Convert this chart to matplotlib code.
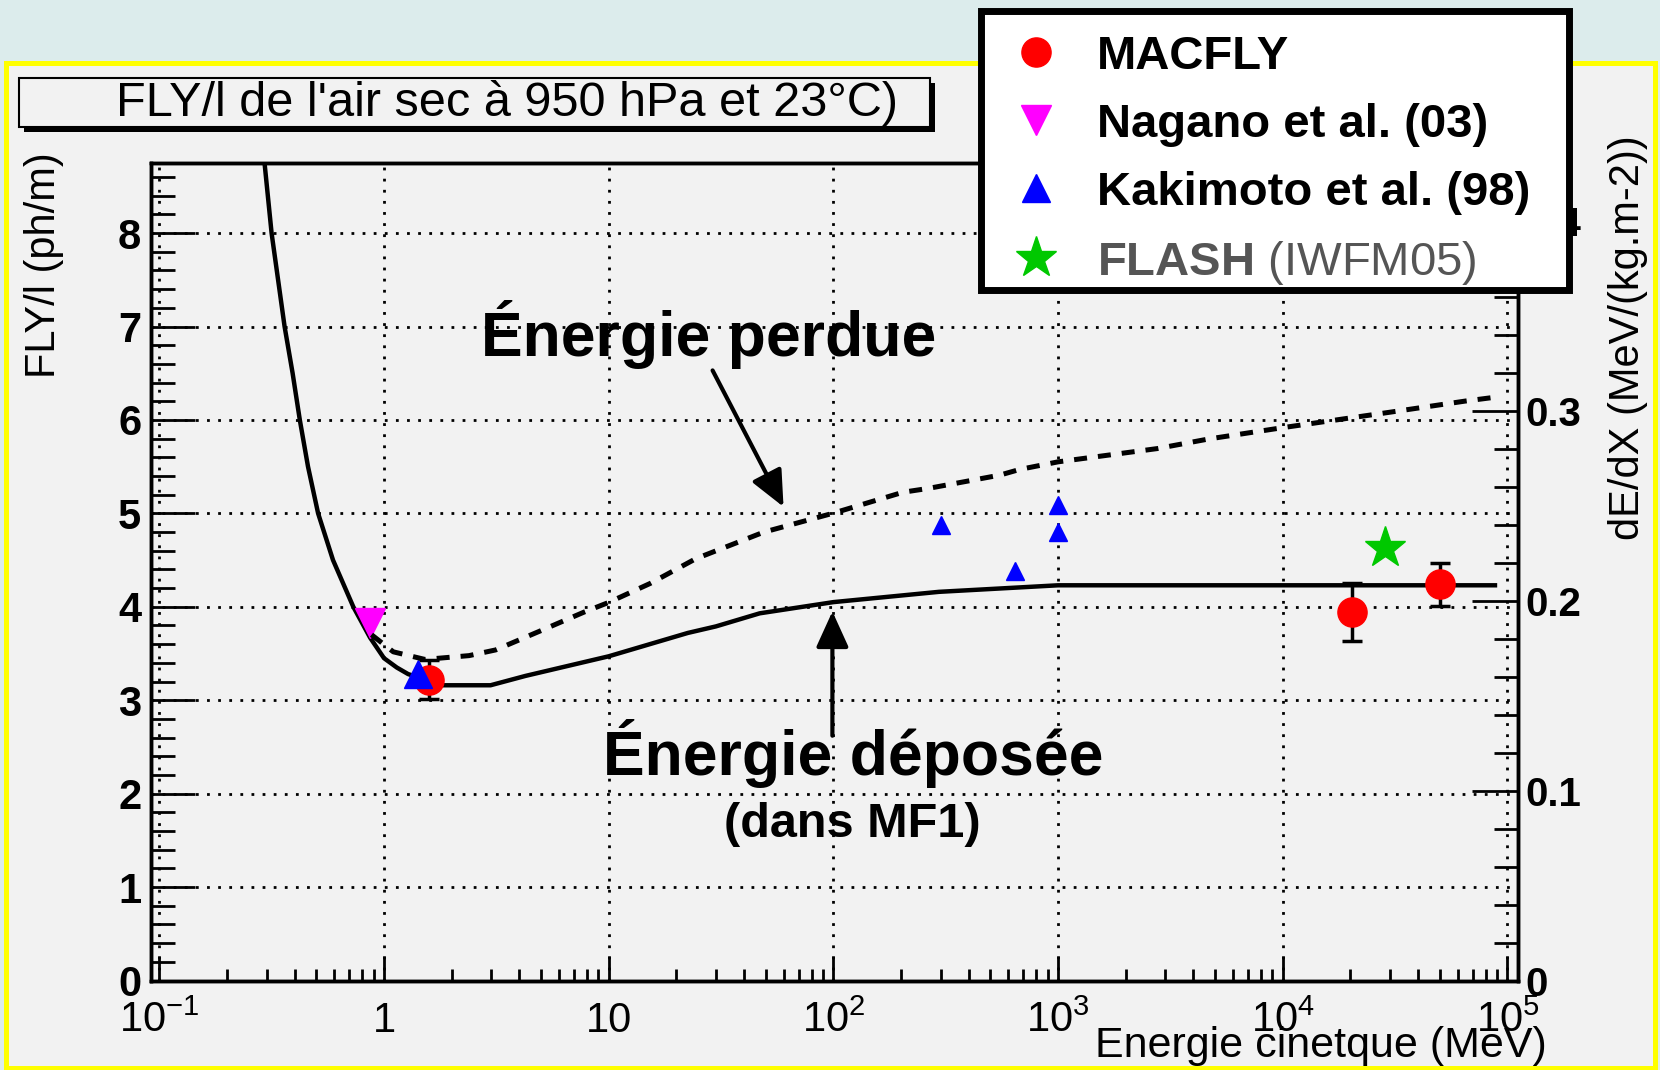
import matplotlib
matplotlib.use('Agg')
import matplotlib.pyplot as plt
from matplotlib.patches import Rectangle
from matplotlib.lines import Line2D
from matplotlib import font_manager
from matplotlib.ticker import MultipleLocator, LogLocator, NullFormatter

# font: narrow ROOT-like look when available
noms = {f.name for f in font_manager.fontManager.ttflist}
narrow = 'Liberation Sans Narrow' if 'Liberation Sans Narrow' in noms else 'Liberation Sans'
plt.rcParams['font.family'] = ['Liberation Sans', 'DejaVu Sans']
plt.rcParams['mathtext.fontset'] = 'custom'
plt.rcParams['mathtext.rm'] = narrow
plt.rcParams['mathtext.it'] = narrow
plt.rcParams['mathtext.bf'] = 'Liberation Sans:bold'

# ---- donnees ----
# energie deposee (FLY/l, ph/m) - courbe pleine
depot_E = [0.294, 0.316, 0.361, 0.392, 0.422, 0.459, 0.509, 0.593, 0.73, 0.867, 1.0,
           1.14, 1.28, 1.8, 2.98, 4.26, 10, 22.5, 30, 47, 100, 295, 1000, 8.8e4]
depot_fly = [8.75, 8.0, 7.0, 6.5, 6.0, 5.5, 5.0, 4.5, 4.0, 3.67, 3.45,
             3.35, 3.28, 3.16, 3.16, 3.26, 3.47, 3.72, 3.79, 3.93, 4.05, 4.16, 4.23, 4.23]

# energie perdue (dE/dX, MeV/(kg.m-2)) - courbe pointillee, axe de droite
perte_E = [0.88, 1.1, 1.52, 2.39, 3.14, 4.96, 7.8, 10, 15.3, 24.4, 49, 100, 204,
           264, 550, 675, 1000, 2770, 4660, 1e4, 29500, 65000, 8.8e4]
perte_dedx = [0.182, 0.173, 0.169, 0.171, 0.174, 0.184, 0.194, 0.199, 0.209, 0.222,
              0.236, 0.246, 0.257, 0.259, 0.266, 0.269, 0.273, 0.280, 0.285, 0.291,
              0.299, 0.305, 0.307]

macfly_E = [1.59, 20300, 50000]
macfly_fly = [3.22, 3.94, 4.24]
macfly_err = [0.21, 0.31, 0.23]

nagano_E = [0.87]
nagano_fly = [3.83]

kakimoto_E = [1.42, 300, 644, 1000, 1000]
kakimoto_fly = [3.28, 4.88, 4.38, 5.09, 4.80]

flash_E = [28500]
flash_fly = [4.63]

x_ticks = [0.1, 1, 10, 100, 1e3, 1e4, 1e5]
x_tick_labels = [r'$10^{-1}$', '1', '10', r'$10^{2}$', r'$10^{3}$', r'$10^{4}$', r'$10^{5}$']
y_ticks = [0, 1, 2, 3, 4, 5, 6, 7, 8]
dedx_ticks = [0, 0.1, 0.2, 0.3, 0.4]
dedx_tick_labels = ['0', '0.1', '0.2', '0.3', '0.4']

legend_labels = ['MACFLY', 'Nagano et al. (03)', 'Kakimoto et al. (98)',
                 r'$\mathbf{FLASH}$ (IWFM05)']

# ---- figure ----
W, H = 1660, 1070
fig = plt.figure(figsize=(W / 100, H / 100), dpi=100, facecolor='#dcecec')

# cadre jaune
fig.add_artist(Rectangle((6 / W, 1 - 1068 / H), 1649 / W, 1005 / H, facecolor='#f2f2f2',
                         edgecolor='#ffff00', lw=3.6, transform=fig.transFigure, zorder=-10))
# boite de titre avec ombre
fig.add_artist(Rectangle((24 / W, 1 - 132 / H), 911 / W, 49 / H, facecolor='black',
                         edgecolor='black', lw=0, transform=fig.transFigure, zorder=-5))
fig.add_artist(Rectangle((19 / W, 1 - 127 / H), 911 / W, 49 / H, facecolor='#f2f2f2',
                         edgecolor='black', lw=1.5, transform=fig.transFigure, zorder=-4))
fig.text(507 / W, 1 - 103 / H, "FLY/l de l'air sec à 950 hPa et 23°C)", ha='center',
         va='center', fontsize=35, family=narrow)

ax = fig.add_axes([151 / W, 1 - 980.5 / H, 1367 / W, 817.5 / H], facecolor='#f2f2f2')
ax.set_xscale('log')
ax.set_xlim(10 ** -1.037, 10 ** 5.047)
ax.set_ylim(0, 8.75)

ax.grid(True, which='major', color='black', lw=2, ls=(0, (1, 3)))

ax.plot(depot_E, depot_fly, color='black', lw=3.2, zorder=3)

ax.errorbar(macfly_E, macfly_fly, yerr=macfly_err, fmt='o', color='red', ms=21,
            ecolor='black', elinewidth=2.5, capsize=7, capthick=2.5, zorder=5)
ax.plot(nagano_E, nagano_fly, 'v', color='#ff00ff', ms=22, zorder=5)
ax.plot(kakimoto_E[:1], kakimoto_fly[:1], '^', color='#0000ff', ms=20, zorder=6)
ax.plot(kakimoto_E[1:], kakimoto_fly[1:], '^', color='#0000ff', ms=13, zorder=6)
ax.plot(flash_E, flash_fly, '*', color='#00c800', ms=31, zorder=5)

ax.set_xticks(x_ticks, labels=x_tick_labels, fontsize=30, family=narrow, va='baseline')
ax.xaxis.set_minor_locator(LogLocator(base=10, subs=range(2, 10), numticks=20))
ax.xaxis.set_minor_formatter(NullFormatter())
ax.set_yticks(y_ticks, labels=[str(v) for v in y_ticks], fontsize=30, fontweight='bold')
ax.yaxis.set_minor_locator(MultipleLocator(0.2))

ax.tick_params(axis='x', which='major', direction='in', length=18, width=2, top=False, pad=37)
ax.tick_params(axis='x', which='minor', direction='in', length=9, width=2, top=False)
ax.tick_params(axis='y', which='major', direction='in', length=32, width=2, right=False, pad=7)
ax.tick_params(axis='y', which='minor', direction='in', length=17, width=2, right=False)

# annotations
ax.annotate('', xy=(60, 5.07), xytext=(29, 6.53),
            arrowprops=dict(arrowstyle='-|>,head_length=1.1,head_width=0.5', lw=3,
                            color='black', shrinkA=0, shrinkB=0, mutation_scale=20))
ax.annotate('', xy=(99, 3.95), xytext=(99, 2.62),
            arrowprops=dict(arrowstyle='-|>,head_length=1.1,head_width=0.5', lw=3,
                            color='black', shrinkA=0, shrinkB=0, mutation_scale=20))
ax.text(27.9, 6.68, 'Énergie perdue', ha='center', va='baseline', fontsize=45,
        fontweight='bold', zorder=8)
ax.text(122, 2.20, 'Énergie déposée', ha='center', va='baseline', fontsize=45,
        fontweight='bold', zorder=8)
ax.text(122, 1.54, '(dans MF1)', ha='center', va='baseline', fontsize=35,
        fontweight='bold', zorder=8)

ax.set_xlabel('Energie cinetque (MeV)', fontsize=31, family=narrow, ha='center', va='center')
ax.xaxis.set_label_coords(0.856, -0.080)
ax.set_ylabel('FLY/l (ph/m)', fontsize=30, family=narrow, ha='center', va='center')
ax.yaxis.set_label_coords(-0.0785, 0.875)

# axe de droite : dE/dX
ax2 = ax.twinx()
ax2.set_ylim(0, 0.4303)
ax2.plot(perte_E, perte_dedx, color='black', lw=3.6, ls=(0, (2.6, 2.2)), zorder=3)
ax2.set_yticks(dedx_ticks, labels=dedx_tick_labels, fontsize=29, fontweight='bold')
ax2.yaxis.set_minor_locator(MultipleLocator(0.02))
ax2.tick_params(axis='y', which='major', direction='in', length=33, width=2, pad=5)
ax2.tick_params(axis='y', which='minor', direction='in', length=17, width=2)
ax2.set_ylabel('dE/dX (MeV/(kg.m-2))', fontsize=30, family=narrow, ha='center', va='center')
ax2.yaxis.set_label_coords(1.0805, 0.786)

for a in (ax, ax2):
    for sp in a.spines.values():
        sp.set_linewidth(2.5)

# legende : cadre blanc a part, entrees posees dedans
fig.add_artist(Rectangle((981 / W, 1 - 290 / H), 588 / W, 279 / H, facecolor='white',
                         edgecolor='black', lw=5, transform=fig.transFigure, zorder=4.9))
handles = [
    Line2D([], [], ls='none', marker='o', color='red', ms=21),
    Line2D([], [], ls='none', marker='v', color='#ff00ff', ms=22),
    Line2D([], [], ls='none', marker='^', color='#0000ff', ms=20),
    Line2D([], [], ls='none', marker='*', color='#00c800', ms=31),
]
leg = fig.legend(handles, legend_labels, loc='upper left',
                 bbox_to_anchor=(981 / W, 1 - 290 / H, 588 / W, 271 / H), mode='expand',
                 borderaxespad=0, prop={'family': 'Liberation Sans', 'weight': 'bold', 'size': 34},
                 handlelength=1.65, handletextpad=0.47, labelspacing=0.51, borderpad=0.33,
                 frameon=False)
flash_txt = leg.get_texts()[3]
flash_txt.set_fontweight('normal')
flash_txt.set_color('#555555')

fig.savefig('out.png', dpi=100)
